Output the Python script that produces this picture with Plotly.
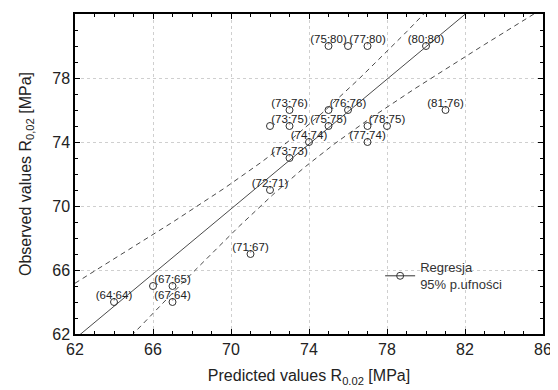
import numpy as np
import plotly.graph_objects as go

# Observed points (predicted x, observed y)
pred = [64, 66, 67, 67, 71, 72, 73, 74, 72, 73, 73, 75, 75, 76, 77, 77, 78, 75, 76, 77, 80, 81]
obs = [64, 65, 65, 64, 67, 71, 73, 74, 75, 75, 76, 75, 76, 76, 75, 74, 75, 80, 80, 80, 80, 76]
labelled = [1, 0, 1, 1, 1, 1, 1, 1, 0, 1, 1, 1, 0, 1, 0, 1, 1, 1, 0, 1, 1, 1]

x_ticks = [62, 66, 70, 74, 78, 82, 86]
y_ticks = [62, 66, 70, 74, 78, 82]
T_975 = 2.086  # Student t quantile, 20 degrees of freedom

x = np.array(pred, dtype=float)
y = np.array(obs, dtype=float)
n = len(x)
slope, intercept = np.polyfit(x, y, 1)
resid = y - (slope * x + intercept)
s = np.sqrt(np.sum(resid ** 2) / (n - 2))
sxx = np.sum((x - x.mean()) ** 2)
xs = np.linspace(x_ticks[0], x_ticks[-1], 200)
fit = slope * xs + intercept
half = T_975 * s * np.sqrt(1.0 / n + (xs - x.mean()) ** 2 / sxx)

line_col = "#4a4a4a"
txt_col = "#222222"
fig = go.Figure()
fig.add_trace(go.Scatter(x=xs, y=fit, mode="lines", line=dict(color=line_col, width=1), showlegend=False, hoverinfo="skip"))
fig.add_trace(go.Scatter(x=xs, y=fit + half, mode="lines", line=dict(color=line_col, width=1, dash="5px,4px"), showlegend=False, hoverinfo="skip"))
fig.add_trace(go.Scatter(x=xs, y=fit - half, mode="lines", line=dict(color=line_col, width=1, dash="5px,4px"), showlegend=False, hoverinfo="skip"))
fig.add_trace(go.Scatter(x=pred, y=obs, mode="markers",
                         marker=dict(symbol="circle-open", size=7, color="#333333", line=dict(width=1)),
                         showlegend=False))
lx = [a for a, f in zip(pred, labelled) if f]
ly = [b for b, f in zip(obs, labelled) if f]
fig.add_trace(go.Scatter(x=lx, y=ly, mode="text", text=[f"({a};{b})" for a, b in zip(lx, ly)],
                         textposition="top center",
                         textfont=dict(size=11.5, color=txt_col, family="Liberation Sans, Arial"),
                         marker=dict(color=txt_col),
                         showlegend=False, hoverinfo="skip"))
fig.add_trace(go.Scatter(x=[None], y=[None], mode="lines+markers", name="Regresja<br>95% p.ufności",
                         line=dict(color="#333333", width=1),
                         marker=dict(symbol="circle-open", size=7, color="#333333")))

axis_common = dict(
    showline=True, linecolor="black", linewidth=1.5, mirror="ticks",
    ticks="inside", ticklen=5, tickcolor="black",
    showgrid=True, gridcolor="#cfcfcf", griddash="dot", gridwidth=1,
    zeroline=False,
    tickfont=dict(size=16, color=txt_col),
    minor=dict(dtick=1, ticks="inside", ticklen=3, tickcolor="black", showgrid=False),
)
fig.update_xaxes(range=[x_ticks[0], x_ticks[-1]], tickvals=x_ticks,
                 title=dict(text="Predicted values R<sub>0.02</sub> [MPa]", font=dict(size=16, color=txt_col), standoff=13),
                 **axis_common)
fig.update_yaxes(range=[y_ticks[0], y_ticks[-1]], tickvals=y_ticks,
                 title=dict(text="Observed values R<sub>0,02</sub> [MPa]", font=dict(size=16, color=txt_col), standoff=17),
                 **axis_common)
fig.update_layout(
    width=550, height=382,
    margin=dict(l=67, r=15, t=4, b=56),
    plot_bgcolor="white", paper_bgcolor="white",
    font=dict(family="Liberation Sans, Arial", color=txt_col),
    legend=dict(x=0.652, y=0.255, xanchor="left", yanchor="top", bgcolor="rgba(0,0,0,0)",
                font=dict(size=13, color="#333333"), itemwidth=30),
)
fig.write_html("out.html")
